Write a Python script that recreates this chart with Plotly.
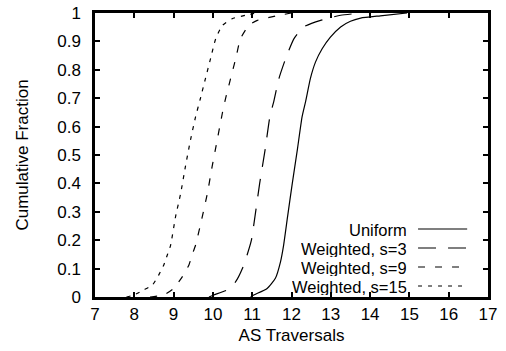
import plotly.graph_objects as go

# ---- data ----
x_ticks = [7, 8, 9, 10, 11, 12, 13, 14, 15, 16, 17]
y_ticks = [0, 0.1, 0.2, 0.3, 0.4, 0.5, 0.6, 0.7, 0.8, 0.9, 1]

names = ["Uniform", "Weighted, s=3", "Weighted, s=9", "Weighted, s=15"]

uniform_x = [10.96, 11.04, 11.38, 11.59, 11.72, 11.80, 11.90, 12.02, 12.15, 12.27,
             12.36, 12.48, 12.61, 12.78, 12.99, 13.25, 13.50, 13.76, 14.26, 14.94]
uniform_y = [0.0, 0.007, 0.03, 0.066, 0.124, 0.183, 0.283, 0.40, 0.52, 0.635,
             0.689, 0.769, 0.827, 0.874, 0.915, 0.951, 0.971, 0.982, 0.99, 1.0]

s3_x = [9.9, 10.02, 10.36, 10.58, 10.75, 10.87, 10.98, 11.07, 11.19, 11.33,
        11.45, 11.55, 11.68, 11.85, 12.06, 12.31, 12.74, 13.25, 13.8]
s3_y = [0.0, 0.007, 0.025, 0.054, 0.10, 0.148, 0.20, 0.283, 0.40, 0.52,
        0.635, 0.689, 0.769, 0.839, 0.909, 0.951, 0.974, 0.992, 1.0]

s9_x = [8.4, 8.75, 9.0, 9.22, 9.39, 9.47, 9.56, 9.73, 9.86, 9.98,
        10.11, 10.24, 10.32, 10.45, 10.58, 10.70, 10.91, 11.13, 11.59, 12.0]
s9_y = [0.0, 0.007, 0.03, 0.071, 0.113, 0.148, 0.183, 0.283, 0.365, 0.459,
        0.553, 0.647, 0.698, 0.769, 0.839, 0.909, 0.956, 0.974, 0.989, 1.0]

s15_x = [7.8, 7.99, 8.24, 8.46, 8.62, 8.75, 8.84, 8.92, 9.05, 9.18,
         9.30, 9.43, 9.56, 9.68, 9.81, 9.94, 10.07, 10.24, 10.49, 10.83, 11.1]
s15_y = [0.0, 0.007, 0.025, 0.042, 0.077, 0.113, 0.148, 0.18, 0.283, 0.365,
         0.459, 0.553, 0.635, 0.698, 0.769, 0.839, 0.909, 0.956, 0.98, 0.992, 1.0]

series_x = [uniform_x, s3_x, s9_x, s15_x]
series_y = [uniform_y, s3_y, s9_y, s15_y]
dashes = ["solid", "18px,12px", "7px,10px", "4px,6px"]

FONT = "Liberation Sans, Arial, Helvetica, sans-serif"
FS = 17
LEG_FS = 16.5

fig = go.Figure()
for xs, ys, nm, ds in zip(series_x, series_y, names, dashes):
    fig.add_trace(go.Scatter(
        x=xs, y=ys, name=nm, mode="lines",
        line=dict(color="black", width=1.2, dash=ds, shape="spline", smoothing=0.5),
        showlegend=False,
    ))

# manual gnuplot-style legend (text right-aligned, sample line on right)
leg_rows_y = [0.2394, 0.1725, 0.1056, 0.0387]
for nm, ds, yy in zip(names, dashes, leg_rows_y):
    fig.add_annotation(x=0.796, y=yy, xref="paper", yref="paper", text=nm,
                       showarrow=False, xanchor="right", yanchor="middle",
                       height=17, borderpad=0, valign="middle",
                       font=dict(family=FONT, size=LEG_FS, color="black"))
    fig.add_shape(type="line", xref="paper", yref="paper",
                  x0=0.822, x1=0.947, y0=yy, y1=yy,
                  line=dict(color="black", width=1.2, dash=ds))

axis_common = dict(
    showgrid=False, zeroline=False, showline=True, linecolor="black", linewidth=2.5,
    mirror="ticks", ticks="inside", ticklen=5, tickwidth=2, tickcolor="black",
    tickfont=dict(family=FONT, size=FS, color="black"), automargin=False,
)

fig.update_xaxes(range=[7, 17], tickvals=x_ticks, ticktext=[str(v) for v in x_ticks],
                 title=dict(text="AS Traversals", font=dict(family=FONT, size=FS, color="black"),
                            standoff=6),
                 ticklabelstandoff=0, **axis_common)
fig.update_yaxes(range=[0, 1], tickvals=y_ticks, ticktext=[f"{v:g}" for v in y_ticks],
                 title=dict(text="Cumulative Fraction", font=dict(family=FONT, size=FS, color="black"),
                            standoff=25),
                 ticklabelstandoff=8, **axis_common)

fig.update_layout(
    width=506, height=351,
    margin=dict(l=95, r=18, t=13, b=54),
    plot_bgcolor="white", paper_bgcolor="white",
    font=dict(family=FONT, size=FS, color="black"),
)

fig.write_html("out.html")
